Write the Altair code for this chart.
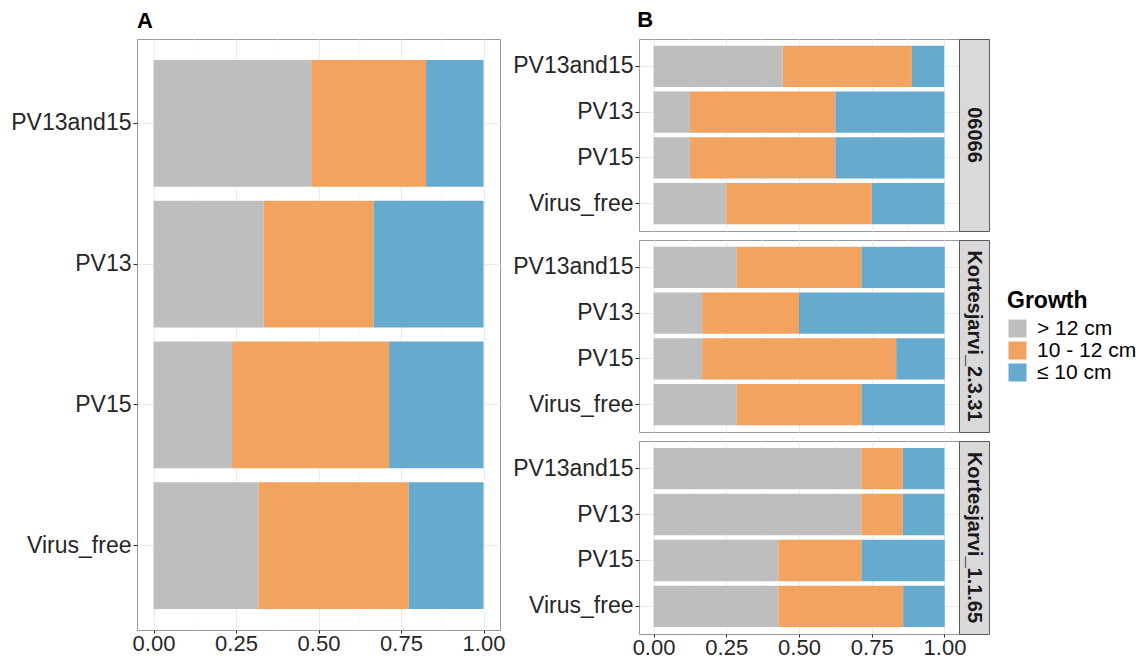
import altair as alt
import pandas as pd

FONT = "Liberation Sans"

growth = ["> 12 cm", "10 - 12 cm", "≤ 10 cm"]
colors = ["#BEBEBE", "#F1A35F", "#66ABCE"]
viruses = ["PV13and15", "PV13", "PV15", "Virus_free"]
genotypes = ["06066", "Kortesjarvi_2.3.31", "Kortesjarvi_1.1.65"]

major_breaks = [0.0, 0.25, 0.5, 0.75, 1.0]
minor_breaks = [0.125, 0.375, 0.625, 0.875]

# Panel A proportions (per virus, in order of `viruses`)
a_gt12 = [0.478, 0.333, 0.238, 0.318]
a_mid = [0.348, 0.334, 0.476, 0.455]
a_le10 = [0.174, 0.333, 0.286, 0.227]

# Panel B proportions per genotype
b_gt12 = {
    "06066": [0.444, 0.125, 0.125, 0.250],
    "Kortesjarvi_2.3.31": [0.286, 0.167, 0.167, 0.286],
    "Kortesjarvi_1.1.65": [0.714, 0.714, 0.429, 0.429],
}
b_mid = {
    "06066": [0.444, 0.500, 0.500, 0.500],
    "Kortesjarvi_2.3.31": [0.429, 0.333, 0.667, 0.429],
    "Kortesjarvi_1.1.65": [0.143, 0.143, 0.286, 0.429],
}
b_le10 = {
    "06066": [0.111, 0.375, 0.375, 0.250],
    "Kortesjarvi_2.3.31": [0.286, 0.500, 0.167, 0.286],
    "Kortesjarvi_1.1.65": [0.143, 0.143, 0.286, 0.143],
}


def long_df(gt12, mid, le10):
    rows = []
    for i, v in enumerate(viruses):
        for k, val in enumerate([gt12[i], mid[i], le10[i]]):
            rows.append({"virus": v, "growth": growth[k], "order": k, "value": val})
    return pd.DataFrame(rows)


color = alt.Color(
    "growth:N",
    scale=alt.Scale(domain=growth, range=colors),
    legend=alt.Legend(
        title="Growth", orient="none", legendX=870, legendY=251,
        titleFontSize=23, titleFontWeight="bold", titleColor="black", titleFont=FONT,
        labelFontSize=21, labelColor="black", labelFont=FONT,
        symbolType="square", symbolSize=324, symbolStrokeWidth=0, symbolOpacity=1,
        rowPadding=0, titlePadding=5, labelOffset=9, padding=0,
    ),
)

xscale = alt.Scale(domain=[-0.05, 1.05], nice=False, zero=False)
minor_df = pd.DataFrame({"g": minor_breaks})
GRID = "#EBEBEB"
TXT = "#262626"


def xaxis(show):
    if show:
        return alt.Axis(values=major_breaks, format=".2f", grid=True, gridColor=GRID,
                        gridWidth=1, labelFontSize=22, labelColor=TXT, labelFont=FONT,
                        tickColor=TXT, tickSize=3, labelPadding=0, domain=False, title=None)
    return alt.Axis(values=major_breaks, grid=True, gridColor=GRID, gridWidth=1,
                    labels=False, ticks=False, domain=False, title=None)


def panel(df, w, h, show_x, title=None):
    ax = xaxis(show_x)
    minor = alt.Chart(minor_df).mark_rule(color="#F3F3F3", strokeWidth=0.6).encode(
        x=alt.X("g:Q", scale=xscale, axis=ax)
    )
    bars = alt.Chart(df).mark_bar().encode(
        x=alt.X("value:Q", stack="zero", scale=xscale, axis=ax),
        y=alt.Y("virus:N", sort=viruses,
                scale=alt.Scale(paddingInner=0.1, paddingOuter=0.15),
                axis=alt.Axis(labelFontSize=23, labelColor=TXT, labelFont=FONT,
                              tickColor=TXT, tickSize=4, labelPadding=2, domain=False,
                              grid=True, gridColor=GRID, bandPosition=0.5, title=None)),
        color=color,
        order=alt.Order("order:Q"),
    )
    props = dict(width=w, height=h, view=alt.ViewBackground(stroke="#9A9A9A", strokeWidth=1, fill="white"))
    if title is not None:
        props["title"] = title
    return alt.layer(minor, bars).properties(**props)


def strip(name, h):
    return alt.Chart(pd.DataFrame({"genotype": [name]})).mark_text(
        angle=90, fontSize=20, fontWeight="bold", font=FONT, color="#1A1A1A",
        align="center", baseline="middle",
    ).encode(
        x=alt.value(15), y=alt.value(h / 2), text="genotype:N"
    ).properties(width=30, height=h,
                 view=alt.ViewBackground(fill="#D9D9D9", stroke="#595959", strokeWidth=1))


title_style = dict(anchor="start", fontSize=22, fontWeight="bold", font=FONT, color="black", offset=6)

chartA = panel(long_df(a_gt12, a_mid, a_le10), 363, 591, True,
               title=alt.Title("A", frame="group", **title_style))

heights = [192, 192, 193]
rows = []
for i, g in enumerate(genotypes):
    p = panel(long_df(b_gt12[g], b_mid[g], b_le10[g]), 320, heights[i], i == len(genotypes) - 1)
    rows.append(alt.hconcat(p, strip(g, heights[i]), spacing=0, bounds="flush"))

chartB = alt.vconcat(*rows, spacing=7, title=alt.Title("B", dx=125, **title_style))

chart = alt.hconcat(chartA, chartB, spacing=6).properties(
    padding={"left": 2, "top": 1, "right": 0, "bottom": 0}
).configure(font=FONT).configure_view(stroke="#9A9A9A")

chart.save("out.html", embed_options={"renderer": "svg", "actions": False})
